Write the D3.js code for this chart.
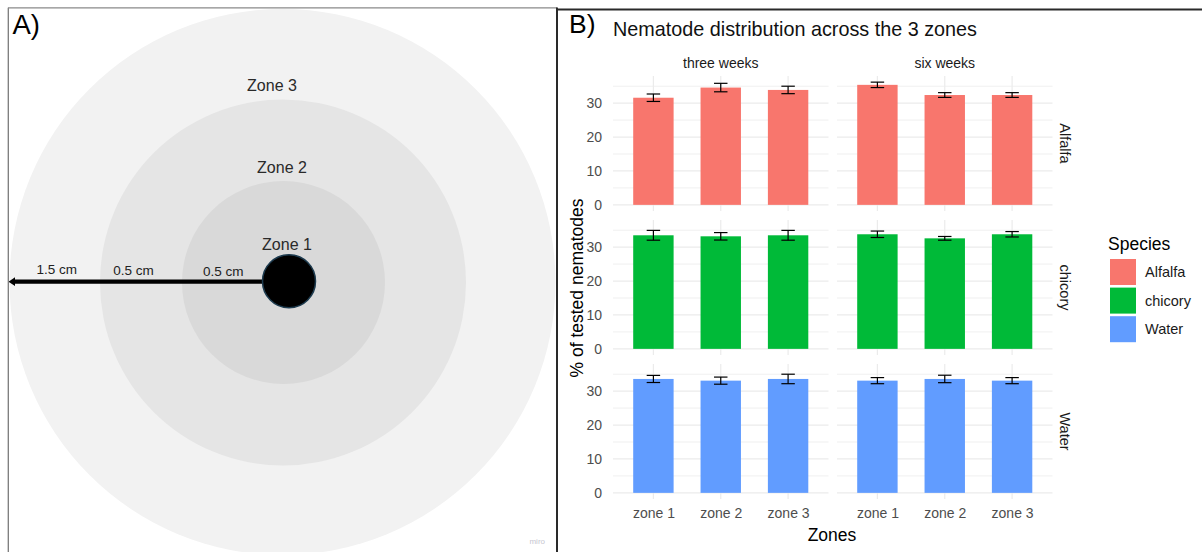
<!DOCTYPE html>
<html>
<head>
<meta charset="utf-8">
<script src="https://cdn.jsdelivr.net/npm/d3@7"></script>
<style>
  html, body { margin: 0; padding: 0; background: #fff; }
  svg { display: block; font-family: "Liberation Sans", Arial, sans-serif; }
</style>
</head>
<body>
<svg id="chart" width="1202" height="552"></svg>
<script>
// ---------- data ----------
const zones = ["zone 1", "zone 2", "zone 3"];
const times = ["three weeks", "six weeks"];
const species = ["Alfalfa", "chicory", "Water"];
const speciesColors = ["#F8766D", "#00BA38", "#619CFF"];
const yTicks = [0, 10, 20, 30];
const yMinorTicks = [5, 15, 25, 35];

const alfalfaThree = [31.6, 34.6, 33.9];
const alfalfaThreeSE = [1.1, 1.25, 1.1];
const alfalfaSix = [35.4, 32.4, 32.4];
const alfalfaSixSE = [0.8, 0.7, 0.7];
const chicoryThree = [33.5, 33.2, 33.5];
const chicoryThreeSE = [1.45, 1.1, 1.45];
const chicorySix = [33.8, 32.6, 33.8];
const chicorySixSE = [0.95, 0.55, 0.8];
const waterThree = [33.6, 33.1, 33.6];
const waterThreeSE = [1.05, 1.05, 1.4];
const waterSix = [33.1, 33.6, 33.1];
const waterSixSE = [0.9, 1.1, 0.9];

// panel A labels
const zoneLabels = ["Zone 1", "Zone 2", "Zone 3"];
const distanceLabels = ["1.5 cm", "0.5 cm", "0.5 cm"];

// ---------- assemble ----------
const means = [[alfalfaThree, alfalfaSix], [chicoryThree, chicorySix], [waterThree, waterSix]];
const ses = [[alfalfaThreeSE, alfalfaSixSE], [chicoryThreeSE, chicorySixSE], [waterThreeSE, waterSixSE]];

const svg = d3.select("#chart");

// ================= Panel A =================
const gA = svg.append("g");
gA.append("clipPath").attr("id", "clipA")
  .append("rect").attr("x", 8.5).attr("y", 8.5).attr("width", 548).attr("height", 560);
const circles = gA.append("g").attr("clip-path", "url(#clipA)");
circles.append("circle").attr("cx", 282.5).attr("cy", 282).attr("r", 273).attr("fill", "#f2f2f2");
circles.append("circle").attr("cx", 283).attr("cy", 282.5).attr("r", 183).attr("fill", "#e5e5e5");
circles.append("circle").attr("cx", 283.5).attr("cy", 282.5).attr("r", 101.5).attr("fill", "#d9d9d9");

// arrow
gA.append("line").attr("x1", 14).attr("y1", 281.7).attr("x2", 275).attr("y2", 281.7)
  .attr("stroke", "#000").attr("stroke-width", 4.2);
gA.append("path").attr("d", "M8.5,281.7 L15,277.3 L15,286.1 Z").attr("fill", "#000");

// dot
gA.append("circle").attr("cx", 289).attr("cy", 281.2).attr("r", 26.5)
  .attr("fill", "#000").attr("stroke", "#1d3b4f").attr("stroke-width", 1.5);

const zoneLabelPos = [[287, 249.5], [282, 173], [272, 91]];
gA.selectAll("text.zone").data(zoneLabels).join("text")
  .attr("class", "zone")
  .attr("x", (d, i) => zoneLabelPos[i][0]).attr("y", (d, i) => zoneLabelPos[i][1])
  .attr("text-anchor", "middle").attr("font-size", 16).attr("fill", "#2a2a2a")
  .text(d => d);

const distPos = [[56.7, 273.5], [133.5, 275], [223.3, 276.3]];
gA.selectAll("text.dist").data(distanceLabels).join("text")
  .attr("class", "dist")
  .attr("x", (d, i) => distPos[i][0]).attr("y", (d, i) => distPos[i][1])
  .attr("text-anchor", "middle").attr("font-size", 13.5).attr("fill", "#222")
  .text(d => d);

gA.append("text").attr("x", 545).attr("y", 544).attr("text-anchor", "end")
  .attr("font-size", 8).attr("fill", "#c6c6d0").text("miro");

// frames
gA.append("line").attr("x1", 8.3).attr("y1", 7.8).attr("x2", 8.3).attr("y2", 552)
  .attr("stroke", "#7a7a7a").attr("stroke-width", 1.3);
gA.append("line").attr("x1", 8).attr("y1", 7.8).attr("x2", 557).attr("y2", 7.8)
  .attr("stroke", "#8a8a8a").attr("stroke-width", 1.2);
svg.append("line").attr("x1", 557).attr("y1", 7.5).attr("x2", 557).attr("y2", 552)
  .attr("stroke", "#2a2a2a").attr("stroke-width", 2);
svg.append("line").attr("x1", 556).attr("y1", 9.5).attr("x2", 1202).attr("y2", 9.5)
  .attr("stroke", "#2a2a2a").attr("stroke-width", 2);

svg.append("text").attr("x", 12.5).attr("y", 33.5).attr("font-size", 27.5).attr("fill", "#000").text("A)");
svg.append("text").attr("x", 569).attr("y", 33).attr("font-size", 26.5).attr("fill", "#000").text("B)");

// ================= Panel B =================
const colX = [613, 837];
const panelW = 215.5;
const rowY = [76, 220, 364];
const panelH = 135;

const yMaxData = d3.max(means.flatMap((s, si) => s.flatMap((t, ti) => t.map((v, zi) => v + ses[si][ti][zi]))));
const pad = yMaxData * 0.05;

const gB = svg.append("g");

gB.append("text").attr("x", 613).attr("y", 36).attr("font-size", 19.8).attr("fill", "#111")
  .text("Nematode distribution across the 3 zones");

species.forEach((sp, si) => {
  times.forEach((tm, ti) => {
    const x0 = colX[ti], y0 = rowY[si];
    const x = d3.scalePoint().domain(zones).range([x0, x0 + panelW]).padding(0.6);
    const y = d3.scaleLinear().domain([-pad, yMaxData + pad]).range([y0 + panelH, y0]);
    const step = x.step();
    const g = gB.append("g");

    // grid
    g.selectAll("line.minor").data(yMinorTicks).join("line")
      .attr("x1", x0).attr("x2", x0 + panelW)
      .attr("y1", d => y(d)).attr("y2", d => y(d))
      .attr("stroke", "#ededed").attr("stroke-width", 0.9);
    g.selectAll("line.major").data(yTicks).join("line")
      .attr("x1", x0).attr("x2", x0 + panelW)
      .attr("y1", d => y(d)).attr("y2", d => y(d))
      .attr("stroke", "#ebebeb").attr("stroke-width", 1.2);
    g.selectAll("line.vmajor").data(zones).join("line")
      .attr("x1", d => x(d)).attr("x2", d => x(d))
      .attr("y1", y0).attr("y2", y0 + panelH)
      .attr("stroke", "#ebebeb").attr("stroke-width", 1.2);

    const vals = means[si][ti], se = ses[si][ti];
    // bars
    g.selectAll("rect.bar").data(zones).join("rect")
      .attr("x", d => x(d) - step * 0.3).attr("width", step * 0.6)
      .attr("y", (d, i) => y(vals[i])).attr("height", (d, i) => y(0) - y(vals[i]))
      .attr("fill", speciesColors[si]);
    // error bars
    const eb = g.selectAll("g.eb").data(zones).join("g");
    eb.append("line")
      .attr("x1", d => x(d)).attr("x2", d => x(d))
      .attr("y1", (d, i) => y(vals[i] + se[i])).attr("y2", (d, i) => y(vals[i] - se[i]))
      .attr("stroke", "#000").attr("stroke-width", 1.2);
    eb.append("line")
      .attr("x1", d => x(d) - step * 0.1).attr("x2", d => x(d) + step * 0.1)
      .attr("y1", (d, i) => y(vals[i] + se[i])).attr("y2", (d, i) => y(vals[i] + se[i]))
      .attr("stroke", "#000").attr("stroke-width", 1.2);
    eb.append("line")
      .attr("x1", d => x(d) - step * 0.1).attr("x2", d => x(d) + step * 0.1)
      .attr("y1", (d, i) => y(vals[i] - se[i])).attr("y2", (d, i) => y(vals[i] - se[i]))
      .attr("stroke", "#000").attr("stroke-width", 1.2);

    // y axis labels (left column)
    if (ti === 0) {
      const ax = d3.axisLeft(y).tickValues(yTicks).tickSize(0).tickPadding(0).tickFormat(d3.format("d"));
      const a = g.append("g").attr("transform", `translate(${x0 - 11},0)`).call(ax);
      a.select(".domain").remove();
      a.selectAll("text").attr("font-size", 14).attr("fill", "#4d4d4d")
        .attr("font-family", "'Liberation Sans', Arial, sans-serif");
    }
    // x axis labels (bottom row)
    if (si === species.length - 1) {
      const ax = d3.axisBottom(x).tickSize(0).tickPadding(0);
      const a = g.append("g").attr("transform", `translate(0,${y0 + panelH + 9})`).call(ax);
      a.select(".domain").remove();
      a.selectAll("text").attr("font-size", 14).attr("fill", "#4d4d4d")
        .attr("font-family", "'Liberation Sans', Arial, sans-serif");
    }
    // top strips
    if (si === 0) {
      g.append("text").attr("x", x0 + panelW / 2).attr("y", 68)
        .attr("text-anchor", "middle").attr("font-size", 14).attr("fill", "#1a1a1a").text(tm);
    }
    // right strips
    if (ti === times.length - 1) {
      g.append("text")
        .attr("transform", `translate(1065,${y0 + panelH / 2}) rotate(90)`)
        .attr("text-anchor", "middle").attr("dominant-baseline", "central")
        .attr("font-size", 14.5).attr("fill", "#1a1a1a").text(sp);
    }
  });
});

// axis titles
gB.append("text").attr("transform", `translate(583,288) rotate(-90)`)
  .attr("text-anchor", "middle").attr("font-size", 17.5).attr("fill", "#000")
  .text("% of tested nematodes");
gB.append("text").attr("x", 832).attr("y", 541)
  .attr("text-anchor", "middle").attr("font-size", 17.5).attr("fill", "#000").text("Zones");

// legend
const leg = gB.append("g");
leg.append("text").attr("x", 1108).attr("y", 250).attr("font-size", 17.5).attr("fill", "#000").text("Species");
const lg = leg.selectAll("g.item").data(species).join("g")
  .attr("transform", (d, i) => `translate(1110,${259 + i * 28.6})`);
lg.append("rect").attr("width", 26).attr("height", 26).attr("fill", (d, i) => speciesColors[i]);
lg.append("text").attr("x", 35).attr("y", 13).attr("dominant-baseline", "central")
  .attr("font-size", 14.5).attr("fill", "#1a1a1a").text(d => d);
</script>
</body>
</html>
